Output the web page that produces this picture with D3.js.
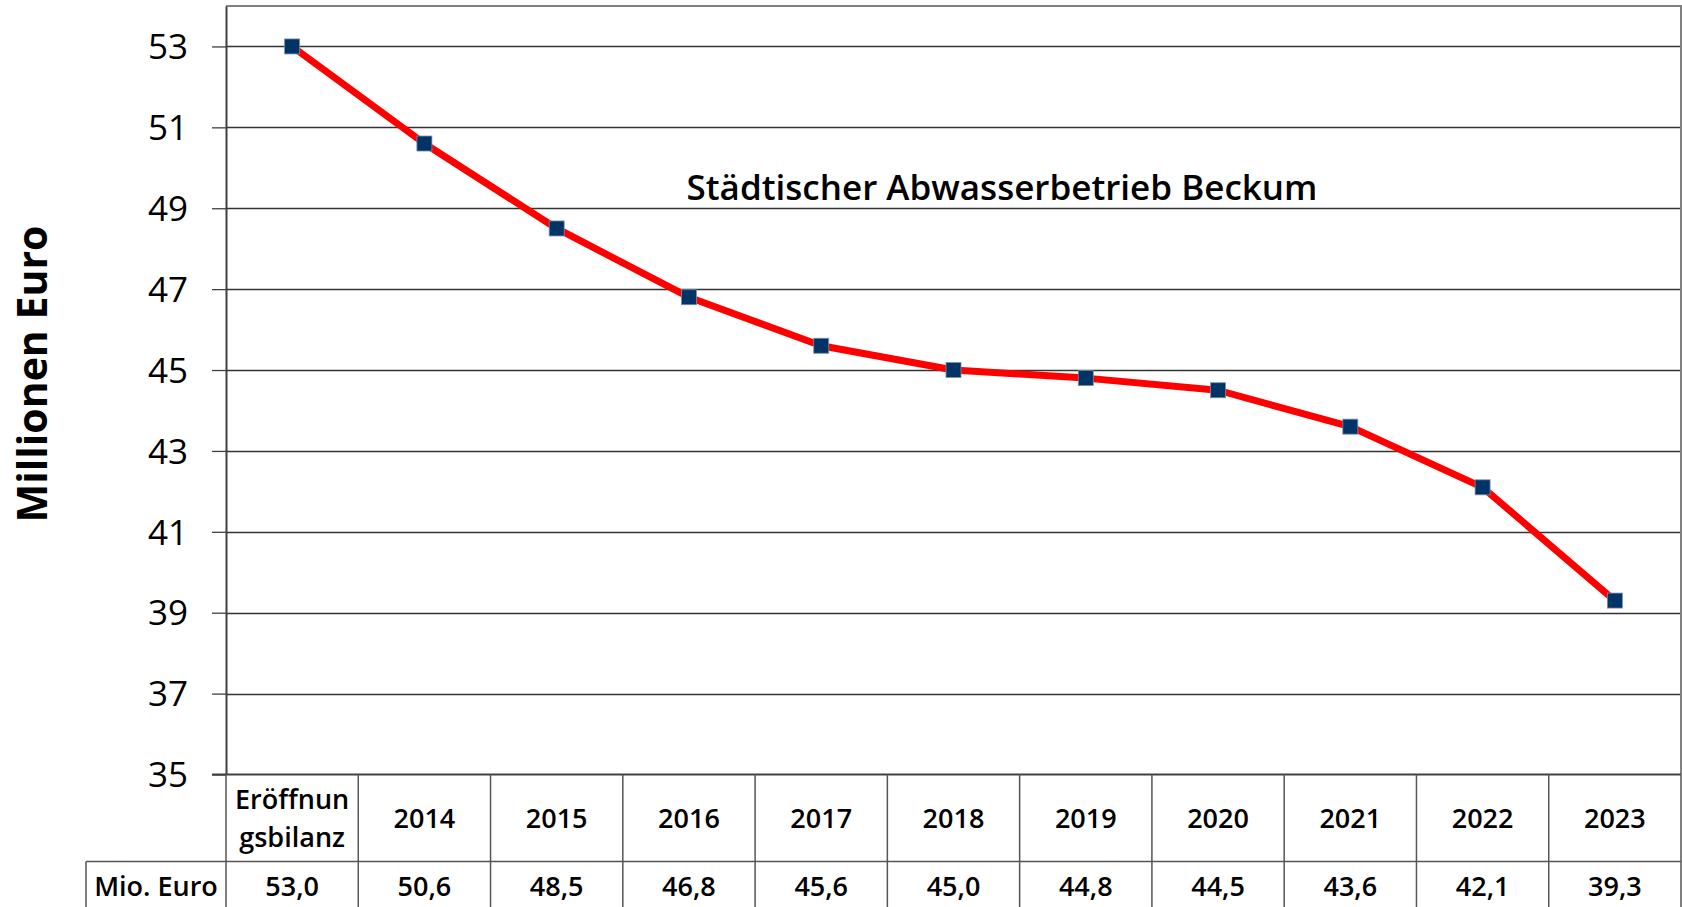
<!DOCTYPE html>
<html>
<head>
<meta charset="utf-8">
<script src="https://cdn.jsdelivr.net/npm/d3@7"></script>
<style>
  html, body { margin: 0; padding: 0; background: #fff; }
  svg { display: block; }
  text { font-family: "Open Sans", "Noto Sans", sans-serif; fill: #000; }
</style>
</head>
<body>
<svg id="chart" width="1682" height="907"></svg>
<script>
// ---- data ----
const categories = ["Eröffnungsbilanz", "2014", "2015", "2016", "2017", "2018", "2019", "2020", "2021", "2022", "2023"];
const headerLines = [["Eröffnun", "gsbilanz"], ["2014"], ["2015"], ["2016"], ["2017"], ["2018"], ["2019"], ["2020"], ["2021"], ["2022"], ["2023"]];
const values = [53.0, 50.6, 48.5, 46.8, 45.6, 45.0, 44.8, 44.5, 43.6, 42.1, 39.3];
const valueLabels = ["53,0", "50,6", "48,5", "46,8", "45,6", "45,0", "44,8", "44,5", "43,6", "42,1", "39,3"];
const yTicks = [35, 37, 39, 41, 43, 45, 47, 49, 51, 53];
const chartTitle = "Städtischer Abwasserbetrieb Beckum";
const yTitle = "Millionen Euro";
const rowLabel = "Mio. Euro";

// ---- layout ----
const W = 1682, H = 907;
const plot = { left: 226, right: 1681, top: 6, bottom: 774.5 };
const tableRow1 = 861.5, tableBottom = 930, rowLabelLeft = 86;

const svg = d3.select("#chart");

const x = d3.scaleBand().domain(categories).range([plot.left, plot.right]).padding(0);
const y = d3.scaleLinear().domain([35, 54]).range([plot.bottom, plot.top]);
const cx = d => x(d) + x.bandwidth() / 2;

// gridlines
svg.append("g").selectAll("line").data(yTicks.filter(t => t !== 35)).join("line")
  .attr("x1", plot.left).attr("x2", plot.right)
  .attr("y1", d => Math.round(y(d)) + 0.5).attr("y2", d => Math.round(y(d)) + 0.5)
  .attr("stroke", "#333").attr("stroke-width", 1.3);

// plot border (top, right)
svg.append("path")
  .attr("d", `M${plot.left},${plot.top}H${plot.right}V${plot.bottom}`)
  .attr("fill", "none").attr("stroke", "#808080").attr("stroke-width", 2);

// y axis
const yAxis = d3.axisLeft(y).tickValues(yTicks).tickSize(14).tickSizeOuter(0).tickPadding(24).tickFormat(d3.format("d"));
const ya = svg.append("g").attr("transform", `translate(${plot.left},0)`).call(yAxis);
ya.select(".domain").attr("stroke", "#404040").attr("stroke-width", 2);
ya.selectAll(".tick line").attr("stroke", "#404040").attr("stroke-width", 1.3);
ya.selectAll(".tick text").attr("font-size", 35).attr("font-family", "'Open Sans', sans-serif").attr("fill", "#000").attr("dy", "0.35em");

// y title
svg.append("text")
  .attr("transform", `translate(47,374) rotate(-90)`)
  .attr("text-anchor", "middle")
  .attr("font-size", 41).attr("font-weight", 700)
  .text(yTitle);

// chart title
svg.append("text")
  .attr("x", 1002).attr("y", 200)
  .attr("text-anchor", "middle")
  .attr("font-size", 35).attr("font-weight", 600)
  .text(chartTitle);

// ---- data table ----
const tbl = svg.append("g");
const bstroke = "#555";
tbl.append("line").attr("x1", plot.left - 14).attr("x2", plot.right).attr("y1", plot.bottom).attr("y2", plot.bottom).attr("stroke", "#404040").attr("stroke-width", 2);
tbl.append("line").attr("x1", rowLabelLeft).attr("x2", plot.right).attr("y1", tableRow1).attr("y2", tableRow1).attr("stroke", bstroke).attr("stroke-width", 1.5);
const boundaries = categories.map(c => x(c)).concat([plot.right]);
tbl.selectAll("line.v").data(boundaries).join("line").attr("class", "v")
  .attr("x1", d => d).attr("x2", d => d)
  .attr("y1", plot.bottom).attr("y2", tableBottom)
  .attr("stroke", bstroke).attr("stroke-width", 1.5);
tbl.append("line").attr("x1", rowLabelLeft).attr("x2", rowLabelLeft).attr("y1", tableRow1).attr("y2", tableBottom).attr("stroke", bstroke).attr("stroke-width", 1.5);

const fsT = 27;
const hdr = tbl.selectAll("text.h").data(categories).join("text").attr("class", "h")
  .attr("text-anchor", "middle").attr("font-size", fsT).attr("font-weight", 600);
hdr.each(function(d, i) {
  const lines = headerLines[i];
  const t = d3.select(this);
  const mid = (plot.bottom + tableRow1) / 2;
  const lh = 38;
  lines.forEach((ln, j) => {
    t.append("tspan").attr("x", cx(d))
      .attr("y", mid + (j - (lines.length - 1) / 2) * lh)
      .attr("dy", "0.36em").text(ln);
  });
});
tbl.selectAll("text.v").data(categories).join("text").attr("class", "v")
  .attr("x", d => cx(d)).attr("y", 896)
  .attr("text-anchor", "middle").attr("font-size", fsT).attr("font-weight", 600)
  .text((d, i) => valueLabels[i]);
tbl.append("text").attr("x", (rowLabelLeft + plot.left) / 2).attr("y", 896)
  .attr("text-anchor", "middle").attr("font-size", fsT).attr("font-weight", 600)
  .text(rowLabel);

// ---- line + markers ----
const line = d3.line().x((d, i) => cx(categories[i])).y(d => y(d));
svg.append("path").datum(values)
  .attr("d", line).attr("fill", "none")
  .attr("stroke", "#ff0000").attr("stroke-width", 7).attr("stroke-linejoin", "round");

const ms = 15;
svg.append("g").selectAll("rect").data(values).join("rect")
  .attr("x", (d, i) => cx(categories[i]) - ms / 2)
  .attr("y", d => y(d) - ms / 2)
  .attr("width", ms).attr("height", ms)
  .attr("fill", "#003366").attr("stroke", "#7a8fa8").attr("stroke-width", 0.8);
</script>
</body>
</html>
